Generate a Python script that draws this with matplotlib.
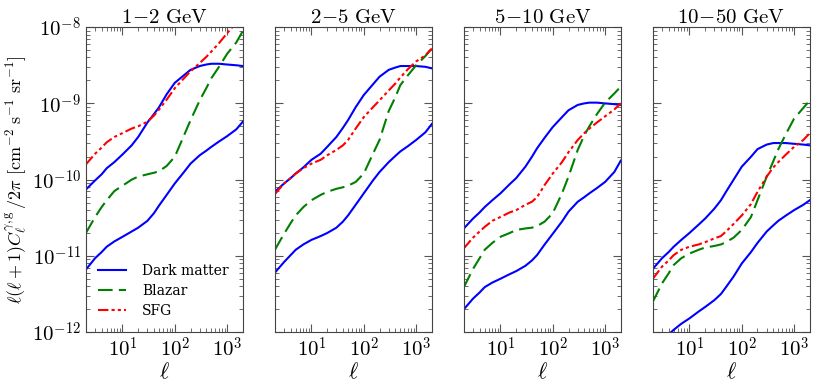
import matplotlib
matplotlib.use('Agg')
import matplotlib.pyplot as plt
from matplotlib.ticker import LogLocator, NullFormatter, FuncFormatter, FixedLocator
import numpy as np

plt.rcParams['mathtext.fontset'] = 'cm'
plt.rcParams['font.family'] = 'DejaVu Serif'

ell = [2, 3, 4, 5, 7, 10, 15, 20, 30, 40, 50, 70, 100, 150, 200, 300, 400, 500, 700, 1000, 1500, 2000]

titles = ['1-2', '2-5', '5-10', '10-50']

# log10 of l(l+1)C_l/2pi, one row per energy bin
dm_upper = [
    [-10.13, -10.01, -9.93, -9.85, -9.77, -9.67, -9.55, -9.44, -9.25, -9.14, -9.05, -8.88,
     -8.73, -8.63, -8.56, -8.51, -8.49, -8.48, -8.48, -8.49, -8.50, -8.51],
    [-10.16, -10.05, -9.98, -9.92, -9.84, -9.74, -9.66, -9.57, -9.44, -9.32, -9.22, -9.05,
     -8.89, -8.75, -8.65, -8.56, -8.53, -8.51, -8.51, -8.51, -8.52, -8.54],
    [-10.64, -10.51, -10.43, -10.36, -10.27, -10.18, -10.06, -9.98, -9.83, -9.70, -9.59, -9.45,
     -9.31, -9.18, -9.09, -9.02, -9.00, -8.99, -8.99, -9.00, -9.01, -9.02],
    [-11.17, -11.03, -10.95, -10.88, -10.79, -10.70, -10.59, -10.51, -10.38, -10.27, -10.16, -10.00,
     -9.83, -9.70, -9.60, -9.54, -9.52, -9.52, -9.52, -9.53, -9.54, -9.55],
]
dm_lower = [
    [-11.18, -11.03, -10.95, -10.88, -10.81, -10.75, -10.68, -10.63, -10.54, -10.44, -10.34, -10.20,
     -10.05, -9.90, -9.79, -9.68, -9.62, -9.57, -9.50, -9.43, -9.34, -9.24],
    [-11.22, -11.08, -10.99, -10.92, -10.85, -10.79, -10.74, -10.70, -10.63, -10.55, -10.47, -10.33,
     -10.18, -10.01, -9.90, -9.77, -9.69, -9.63, -9.56, -9.48, -9.38, -9.27],
    [-11.70, -11.56, -11.48, -11.41, -11.35, -11.30, -11.24, -11.20, -11.13, -11.06, -10.99, -10.85,
     -10.71, -10.55, -10.42, -10.29, -10.23, -10.18, -10.11, -10.03, -9.90, -9.75],
    [-12.21, -12.11, -12.03, -11.97, -11.89, -11.82, -11.73, -11.67, -11.58, -11.50, -11.41, -11.27,
     -11.10, -10.95, -10.83, -10.68, -10.60, -10.54, -10.47, -10.40, -10.33, -10.27],
]
blazar = [
    [-10.70, -10.49, -10.36, -10.27, -10.15, -10.08, -10.00, -9.96, -9.93, -9.91, -9.89, -9.82,
     -9.70, -9.42, -9.22, -8.96, -8.80, -8.67, -8.52, -8.35, -8.20, -8.05],
    [-10.92, -10.71, -10.57, -10.47, -10.36, -10.27, -10.20, -10.16, -10.12, -10.10, -10.08, -10.03,
     -9.92, -9.66, -9.48, -9.10, -8.92, -8.76, -8.63, -8.50, -8.38, -8.28],
    [-11.41, -11.17, -11.03, -10.92, -10.83, -10.75, -10.70, -10.66, -10.64, -10.63, -10.61, -10.55,
     -10.44, -10.18, -9.96, -9.61, -9.42, -9.30, -9.14, -8.99, -8.87, -8.78],
    [-11.60, -11.36, -11.23, -11.12, -11.03, -10.97, -10.92, -10.89, -10.87, -10.85, -10.82, -10.76,
     -10.66, -10.49, -10.27, -9.96, -9.76, -9.60, -9.40, -9.20, -9.06, -8.96],
]
sfg = [
    [-9.80, -9.66, -9.58, -9.51, -9.44, -9.39, -9.33, -9.30, -9.24, -9.16, -9.08, -8.95,
     -8.80, -8.67, -8.58, -8.47, -8.39, -8.32, -8.21, -8.08, -7.94, -7.84],
    [-10.19, -10.05, -9.98, -9.92, -9.85, -9.79, -9.74, -9.68, -9.61, -9.55, -9.48, -9.33,
     -9.18, -9.05, -8.96, -8.83, -8.74, -8.66, -8.55, -8.45, -8.37, -8.28],
    [-10.90, -10.76, -10.68, -10.62, -10.54, -10.49, -10.43, -10.40, -10.33, -10.29, -10.23, -10.07,
     -9.92, -9.77, -9.64, -9.48, -9.39, -9.33, -9.25, -9.17, -9.08, -9.00],
    [-11.30, -11.14, -11.06, -10.99, -10.92, -10.88, -10.85, -10.82, -10.77, -10.74, -10.68, -10.58,
     -10.47, -10.32, -10.16, -9.96, -9.84, -9.77, -9.67, -9.57, -9.48, -9.39],
]


def pow10(v):
    return np.power(10.0, v)


def pow_fmt(v, pos):
    return r'$10^{%d}$' % int(round(np.log10(v)))


fig, axes = plt.subplots(1, 4, figsize=(8.18, 3.88), dpi=100, sharey=True)
fig.subplots_adjust(left=0.105, right=0.99, top=0.93, bottom=0.144, wspace=0.204)

for i, ax in enumerate(axes):
    ax.plot(ell, pow10(dm_upper[i]), color='blue', lw=1.5, label='Dark matter')
    ax.plot(ell, pow10(blazar[i]), color='green', lw=1.5, dashes=[7, 3], label='Blazar')
    ax.plot(ell, pow10(sfg[i]), color='red', lw=1.5, dashes=[5, 1.5, 1.5, 1.5, 1.5, 1.5], label='SFG')
    ax.plot(ell, pow10(dm_lower[i]), color='blue', lw=1.5)
    ax.set_xscale('log')
    ax.set_yscale('log')
    ax.set_xlim(2, 2000)
    ax.set_ylim(1e-12, 1e-8)
    lo, hi = titles[i].split('-')
    ax.set_title(r'$%s\!-\!%s\ \mathrm{GeV}$' % (lo, hi), fontsize=15, pad=3)
    ax.set_xlabel(r'$\ell$', fontsize=16, labelpad=0)
    ax.xaxis.set_major_locator(FixedLocator([10, 100, 1000]))
    ax.xaxis.set_minor_locator(LogLocator(base=10, subs=range(2, 10), numticks=10))
    ax.xaxis.set_minor_formatter(NullFormatter())
    ax.xaxis.set_major_formatter(FuncFormatter(pow_fmt))
    ax.yaxis.set_major_locator(FixedLocator([1e-12, 1e-11, 1e-10, 1e-9, 1e-8]))
    ax.yaxis.set_major_formatter(FuncFormatter(pow_fmt))
    ax.tick_params(which='both', direction='in', top=True, right=True, color='#555555')
    ax.tick_params(which='major', length=6, labelsize=15)
    ax.tick_params(which='minor', length=3)
    for s in ax.spines.values():
        s.set_color('#444444')

axes[0].set_ylabel(r'$\ell(\ell+1)C_\ell^{\gamma,\mathrm{g}}\,/2\pi\ [\mathrm{cm^{-2}\ s^{-1}\ sr^{-1}}]$',
                   fontsize=13, labelpad=2)
axes[0].legend(loc='lower right', frameon=False, fontsize=10, handlelength=2.0,
               handletextpad=1.2, labelspacing=0.45, borderaxespad=0.6)

plt.savefig('out.png', dpi=100)
